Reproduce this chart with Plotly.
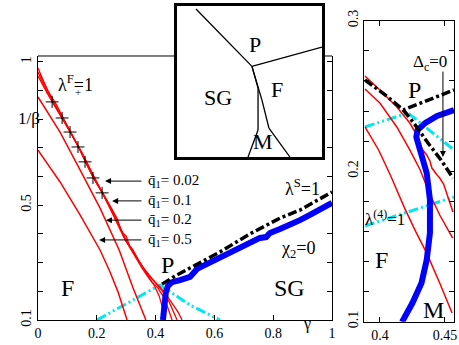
import plotly.graph_objects as go

# ---- left panel: gamma vs 1/beta ----
# lambda_+^F = 1 bundle (several q1 runs)
bundle_1_x = [0, 0.024, 0.048, 0.082, 0.109, 0.136, 0.160, 0.187, 0.218, 0.245, 0.272, 0.293, 0.313, 0.333, 0.354, 0.374, 0.395, 0.412, 0.422, 0.432]
bundle_1_y = [0.978, 0.919, 0.867, 0.807, 0.759, 0.706, 0.654, 0.598, 0.546, 0.490, 0.434, 0.386, 0.351, 0.316, 0.281, 0.250, 0.222, 0.184, 0.149, 0.1]
bundle_2_x = [0, 0.027, 0.051, 0.085, 0.112, 0.140, 0.163, 0.191, 0.221, 0.252, 0.276, 0.285, 0.299, 0.323, 0.344, 0.367, 0.388, 0.408, 0.429, 0.442, 0.456]
bundle_2_y = [0.964, 0.901, 0.856, 0.800, 0.752, 0.699, 0.647, 0.591, 0.539, 0.483, 0.428, 0.405, 0.375, 0.344, 0.302, 0.267, 0.232, 0.211, 0.177, 0.142, 0.1]
bundle_3_x = [0, 0.031, 0.058, 0.088, 0.116, 0.146, 0.170, 0.197, 0.228, 0.259, 0.270, 0.282, 0.306, 0.330, 0.354, 0.381, 0.405, 0.425, 0.446, 0.459, 0.473]
bundle_3_y = [0.950, 0.891, 0.846, 0.793, 0.745, 0.689, 0.640, 0.584, 0.529, 0.469, 0.452, 0.414, 0.365, 0.330, 0.288, 0.253, 0.225, 0.198, 0.163, 0.135, 0.1]
bundle_4_x = [0.007, 0.034, 0.061, 0.092, 0.119, 0.150, 0.174, 0.201, 0.231, 0.262, 0.289, 0.300, 0.313, 0.337, 0.364, 0.388, 0.415, 0.439, 0.459, 0.476, 0.490]
bundle_4_y = [0.957, 0.898, 0.853, 0.790, 0.738, 0.682, 0.633, 0.577, 0.518, 0.459, 0.403, 0.392, 0.354, 0.316, 0.274, 0.243, 0.215, 0.184, 0.156, 0.128, 0.1]
q02_x = [0, 0.075, 0.143, 0.211, 0.276, 0.323, 0.367]
q02_y = [0.877, 0.755, 0.623, 0.490, 0.344, 0.212, 0.1]
q05_x = [0, 0.075, 0.143, 0.211, 0.245, 0.272, 0.303]
q05_y = [0.692, 0.581, 0.466, 0.344, 0.267, 0.198, 0.1]
err_x = [0.048, 0.082, 0.109, 0.136, 0.160, 0.187, 0.218]
err_y = [0.860, 0.804, 0.755, 0.703, 0.651, 0.595, 0.543]

chi2_x = [0.425, 0.429, 0.435, 0.442, 0.456, 0.483, 0.517, 0.541, 0.602, 0.663, 0.714, 0.755, 0.776, 0.789, 0.823, 0.857, 0.891, 0.925, 0.959, 1.0]
chi2_y = [0.1, 0.152, 0.198, 0.219, 0.232, 0.239, 0.250, 0.278, 0.309, 0.344, 0.368, 0.386, 0.389, 0.403, 0.417, 0.431, 0.448, 0.466, 0.487, 0.508]
lamS_x = [0.422, 0.466, 0.517, 0.619, 0.721, 0.823, 0.891, 1.0]
lamS_y = [0.225, 0.253, 0.281, 0.337, 0.400, 0.455, 0.483, 0.546]
cyan_x = [0.201, 0.415, 0.517, 0.619]
cyan_y = [0.1, 0.222, 0.152, 0.1]

# ---- right panel: zoom near the multicritical point ----
zA_x = [0.3885, 0.400, 0.413, 0.423, 0.427, 0.429, 0.433, 0.436, 0.4385, 0.440, 0.444, 0.446, 0.449, 0.451, 0.453, 0.4547, 0.4562]
zA_y = [0.2633, 0.254, 0.2427, 0.232, 0.226, 0.2207, 0.2141, 0.2108, 0.2068, 0.2021, 0.1975, 0.1955, 0.1915, 0.1862, 0.1809, 0.1769, 0.1729]
zB_x = [0.3885, 0.400, 0.413, 0.423, 0.431, 0.438, 0.446, 0.456]
zB_y = [0.2546, 0.2453, 0.2294, 0.2141, 0.2008, 0.1855, 0.1709, 0.1556]
zC_x = [0.3885, 0.399, 0.408, 0.419, 0.427, 0.436, 0.446, 0.4555]
zC_y = [0.2294, 0.2141, 0.1975, 0.1755, 0.1609, 0.1456, 0.1257, 0.1058]
zchi_x = [0.457, 0.444, 0.435, 0.429, 0.428, 0.430, 0.433, 0.436, 0.4385, 0.4385, 0.436, 0.432, 0.425, 0.417]
zchi_y = [0.2406, 0.2367, 0.2321, 0.2274, 0.2227, 0.2161, 0.2075, 0.1988, 0.1809, 0.159, 0.141, 0.1257, 0.1124, 0.0998]
zlamS_x = [0.3885, 0.404, 0.418, 0.431, 0.446, 0.457]
zlamS_y = [0.2606, 0.2507, 0.2407, 0.2453, 0.250, 0.254]
zdelta_x = [0.418, 0.4255, 0.437, 0.447, 0.4562]
zdelta_y = [0.2407, 0.2327, 0.2187, 0.2075, 0.1955]
zcyan_x = [0.3885, 0.4216, 0.457]
zcyan_y = [0.2294, 0.2387, 0.2141]
zlam4_x = [0.3885, 0.457]
zlam4_y = [0.1636, 0.1829]

# ---- inset sketch ----
sk_lines = [
    ([0.131, 0.517], [0.980, 0.600]),
    ([0.517, 1.0], [0.600, 0.728]),
    ([0.517, 0.559, 0.559], [0.600, 0.457, 0.179]),
    ([0.517, 0.586, 0.634], [0.600, 0.377, 0.192]),
    ([0.559, 0.490], [0.179, 0.0]),
    ([0.634, 0.779], [0.192, 0.0]),
]

RED = "#ff0000"
BLUE = "#0000ff"
CYAN = "#00e8ee"
FONT = "Liberation Serif"

fig = go.Figure()


def line(x, y, color, width, dash="solid", xa="x", ya="y"):
    fig.add_trace(go.Scatter(x=x, y=y, mode="lines", xaxis=xa, yaxis=ya,
                             line=dict(color=color, width=width, dash=dash),
                             hoverinfo="skip"))


DASHDOT = "9px,3px,3px,3px"
DASHDOTDOT = "10px,3px,2px,3px,2px,3px"

# left panel
line(cyan_x, cyan_y, CYAN, 3, DASHDOTDOT)
for bx, by in [(bundle_1_x, bundle_1_y), (bundle_2_x, bundle_2_y),
               (bundle_3_x, bundle_3_y), (bundle_4_x, bundle_4_y)]:
    line(bx, by, RED, 1.3)
line(q02_x, q02_y, RED, 1.5)
line(q05_x, q05_y, RED, 1.5)
line(chi2_x, chi2_y, BLUE, 6)
line(lamS_x, lamS_y, "black", 3.5, DASHDOT)
fig.add_trace(go.Scatter(
    x=err_x, y=err_y, mode="markers", marker=dict(size=1, color="black"),
    error_x=dict(type="constant", value=0.022, width=0, thickness=1, color="black"),
    error_y=dict(type="constant", value=0.021, width=0, thickness=1, color="black"),
    hoverinfo="skip"))

# right panel
line(zcyan_x, zcyan_y, CYAN, 3, DASHDOTDOT, "x2", "y2")
line(zlam4_x, zlam4_y, CYAN, 3, DASHDOTDOT, "x2", "y2")
line(zA_x, zA_y, RED, 1.5, xa="x2", ya="y2")
line(zB_x, zB_y, RED, 1.5, xa="x2", ya="y2")
line(zC_x, zC_y, RED, 1.5, xa="x2", ya="y2")
line(zchi_x, zchi_y, BLUE, 6, xa="x2", ya="y2")
line(zlamS_x, zlamS_y, "black", 3.5, DASHDOT, "x2", "y2")
line(zdelta_x, zdelta_y, "black", 3.5, DASHDOT, "x2", "y2")

# inset
for sx, sy in sk_lines:
    line(sx, sy, "black", 1.3, xa="x3", ya="y3")

ax_common = dict(showgrid=False, zeroline=False, showline=True, linecolor="black",
                 linewidth=1, ticks="inside", ticklen=5, tickcolor="black",
                 automargin=False, ticklabeloverflow="allow",
                 tickfont=dict(family=FONT, size=14, color="black"))

fig.update_layout(
    width=459, height=345, margin=dict(l=0, r=0, t=0, b=0),
    paper_bgcolor="white", plot_bgcolor="white", showlegend=False,
    font=dict(family=FONT, color="black"),
    xaxis=dict(domain=[0.0828, 0.7233], range=[0, 1], anchor="y",
               tickvals=[0, 0.2, 0.4, 0.6, 0.8, 1],
               ticktext=["0", "0.2", "0.4", "0.6", "0.8", "1"], **ax_common),
    yaxis=dict(domain=[0.0725, 0.8377], range=[0.1, 1.02], anchor="x",
               tickvals=[0.1, 0.2, 0.3, 0.4, 0.5, 0.6, 0.7, 0.8, 0.9, 1.0],
               ticktext=["0.1", "", "", "", "0.5", "", "", "", "", "1"],
               tickangle=-90, mirror="ticks", **ax_common),
    xaxis2=dict(domain=[0.7937, 0.9891], range=[0.388, 0.457], anchor="y2",
                tickvals=[0.4, 0.45], ticktext=["0.4", "0.45"], mirror="ticks", **ax_common),
    yaxis2=dict(domain=[0.0675, 0.94], range=[0.1, 0.3], anchor="x2",
                tickvals=[0.1, 0.12, 0.14, 0.16, 0.18, 0.2, 0.22, 0.24, 0.26, 0.28, 0.3],
                ticktext=["0.1", "", "", "", "", "0.2", "", "", "", "", "0.3"],
                tickangle=-90, mirror="ticks", **ax_common),
    xaxis3=dict(domain=[0.3856, 0.7015], range=[0, 1], anchor="y3", showgrid=False,
                zeroline=False, showticklabels=False, showline=True, mirror=True,
                linecolor="black", linewidth=2.5, automargin=False),
    yaxis3=dict(domain=[0.5449, 0.9826], range=[0, 1], anchor="x3", showgrid=False,
                zeroline=False, showticklabels=False, showline=True, mirror=True,
                linecolor="black", linewidth=2.5, automargin=False),
)

# top border of left panel, interrupted by the inset
for x0, x1 in [(0.0828, 0.3856), (0.7015, 0.7233)]:
    fig.add_shape(type="line", xref="paper", yref="paper", x0=x0, x1=x1,
                  y0=0.8377, y1=0.8377, line=dict(color="black", width=1))


def label(text, x, y, size, xa="x", ya="y", **kw):
    fig.add_annotation(text=text, x=x, y=y, xref=xa, yref=ya, showarrow=False,
                       font=dict(family=FONT, size=size, color="black"), **kw)


def arrow(x, y, ax, ay, xa="x", ya="y"):
    fig.add_annotation(text="", x=x, y=y, ax=ax, ay=ay, xref=xa, yref=ya,
                       axref=xa, ayref=ya, showarrow=True, arrowhead=2,
                       arrowsize=1.2, arrowwidth=1, arrowcolor="black")


# left panel labels
label("λ<sup>F</sup>=1", 0.129, 0.925, 18)
label("+", 0.135, 0.893, 11)
label("F", 0.102, 0.212, 24)
label("P", 0.442, 0.292, 24)
label("SG", 0.857, 0.212, 24)
label("χ<sub>2</sub>=0", 0.884, 0.347, 18)
label("λ<sup>S</sup>=1", 0.898, 0.56, 18)
label("1/β", 0.035, 0.69, 17, xa="paper", ya="paper")
label("γ", 0.681, 0.029, 16, xa="paper", ya="paper")

q_labels = ["0.02", "0.1", "0.2", "0.5"]
q_rows = [0.584, 0.515, 0.448, 0.379]
q_tips = [0.228, 0.252, 0.231, 0.208]
for txt, yy, tip in zip(q_labels, q_rows, q_tips):
    arrow(tip, yy, 0.357, yy)
    label("q̄<sub>1</sub>= " + txt, 0.367, yy, 15, xanchor="left")

# right panel labels
label("Δ<sub>c</sub>=0", 0.4385, 0.272, 17, "x2", "y2")
arrow(0.4485, 0.2094, 0.4485, 0.2672, "x2", "y2")
label("P", 0.427, 0.254, 24, "x2", "y2")
label("λ<sup>(4)</sup>=1", 0.4039, 0.169, 17, "x2", "y2")
label("F", 0.4016, 0.141, 24, "x2", "y2")
label("M", 0.4416, 0.108, 24, "x2", "y2")

# inset labels
label("P", 0.538, 0.742, 22, "x3", "y3")
label("SG", 0.283, 0.397, 22, "x3", "y3")
label("F", 0.69, 0.444, 22, "x3", "y3")
label("M", 0.593, 0.10, 22, "x3", "y3")

# the page body has a default 8px margin; drop it so the figure fills the window
fig.write_html("out.html", config={"displayModeBar": False},
               post_script="document.body.style.margin='0';")
